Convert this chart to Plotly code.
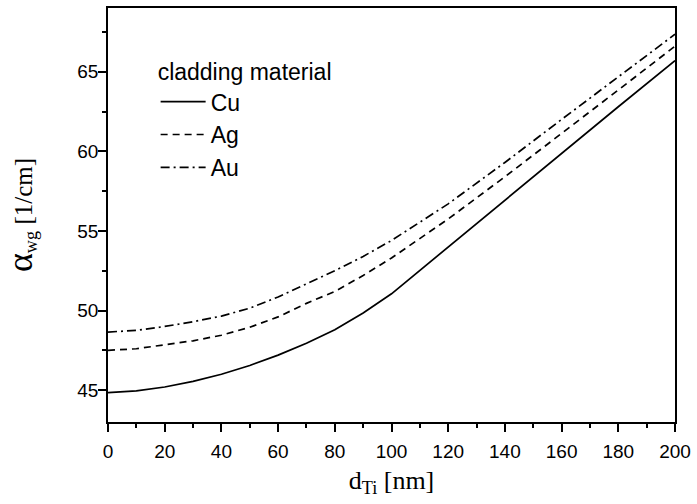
import plotly.graph_objects as go

d_ti = [0, 10, 20, 30, 40, 50, 60, 70, 80, 90, 100, 120, 140, 160, 180, 200]
alpha_cu = [44.85, 44.95, 45.2, 45.55, 46.0, 46.55, 47.2, 47.95, 48.8, 49.85, 51.05, 54.0, 56.95, 59.9, 62.8, 65.7]
alpha_ag = [47.5, 47.6, 47.85, 48.1, 48.45, 48.95, 49.6, 50.45, 51.2, 52.2, 53.3, 55.75, 58.4, 61.1, 63.85, 66.6]
alpha_au = [48.65, 48.75, 49.0, 49.3, 49.65, 50.15, 50.85, 51.65, 52.5, 53.4, 54.4, 56.7, 59.3, 62.0, 64.7, 67.35]
series_names = ["Cu", "Ag", "Au"]
x_ticks = [0, 20, 40, 60, 80, 100, 120, 140, 160, 180, 200]
y_ticks = [45, 50, 55, 60, 65]

x_range = [0, 200]
y_range = [43, 69]

fig = go.Figure()
styles = ["solid", "7px,5px", "9px,4px,2px,4px"]
for name, ys, dash in zip(series_names, [alpha_cu, alpha_ag, alpha_au], styles):
    fig.add_trace(go.Scatter(x=d_ti, y=ys, mode="lines", name=name,
                             line=dict(color="black", width=1.7, dash=dash)))

tick_font = dict(family="Liberation Sans, Arial, sans-serif", size=19, color="black")
title_font = dict(family="Liberation Serif, Times New Roman, serif", size=26, color="black")

fig.update_layout(
    width=697, height=504,
    margin=dict(l=108, r=18, t=6, b=82),
    paper_bgcolor="white", plot_bgcolor="white",
    showlegend=True,
    legend=dict(
        title=dict(text="cladding material", font=dict(family="Liberation Sans, Arial, sans-serif", size=23, color="black")),
        font=dict(family="Liberation Sans, Arial, sans-serif", size=23, color="black"),
        x=0.084, y=0.898, xanchor="left", yanchor="top",
        bgcolor="rgba(0,0,0,0)", itemwidth=45, tracegroupgap=0,
    ),
    xaxis=dict(
        range=x_range, tickvals=x_ticks, ticks="outside", ticklen=8, tickwidth=1.5,
        tickcolor="black", showline=True, linecolor="black", linewidth=1.5, mirror=True,
        showgrid=False, zeroline=False, tickfont=tick_font, ticklabelstandoff=3,
        minor=dict(dtick=10, ticks="outside", ticklen=4, tickwidth=1.5, tickcolor="black", showgrid=False),
        title=dict(text="d<sub>Ti</sub> [nm]", font=title_font, standoff=10),
    ),
    yaxis=dict(
        range=y_range, tickvals=y_ticks, ticks="outside", ticklen=8, tickwidth=1.5,
        tickcolor="black", showline=True, linecolor="black", linewidth=1.5, mirror=True,
        showgrid=False, zeroline=False, tickfont=tick_font, ticklabelstandoff=-4,
        minor=dict(dtick=2.5, ticks="outside", ticklen=4, tickwidth=1.5, tickcolor="black", showgrid=False),
        title=dict(text="<span style='font-size:36px'>α</span><sub>wg</sub> <span style='font-size:25px'>[1/cm]</span>",
                   font=title_font, standoff=38),
    ),
    xaxis2=dict(
        range=x_range, overlaying="x", side="top", anchor="y", tickvals=x_ticks,
        ticks="inside", ticklen=8, tickwidth=1.5, tickcolor="black", showticklabels=False,
        showline=False, showgrid=False, zeroline=False,
        minor=dict(dtick=10, ticks="inside", ticklen=4, tickwidth=1.5, tickcolor="black", showgrid=False),
    ),
    yaxis2=dict(
        range=y_range, overlaying="y", side="right", anchor="x", tickvals=y_ticks,
        ticks="inside", ticklen=8, tickwidth=1.5, tickcolor="black", showticklabels=False,
        showline=False, showgrid=False, zeroline=False,
        minor=dict(dtick=2.5, ticks="inside", ticklen=4, tickwidth=1.5, tickcolor="black", showgrid=False),
    ),
)

fig.write_html("out.html", config={"displayModeBar": False},
               post_script="document.body.style.margin='0';")
